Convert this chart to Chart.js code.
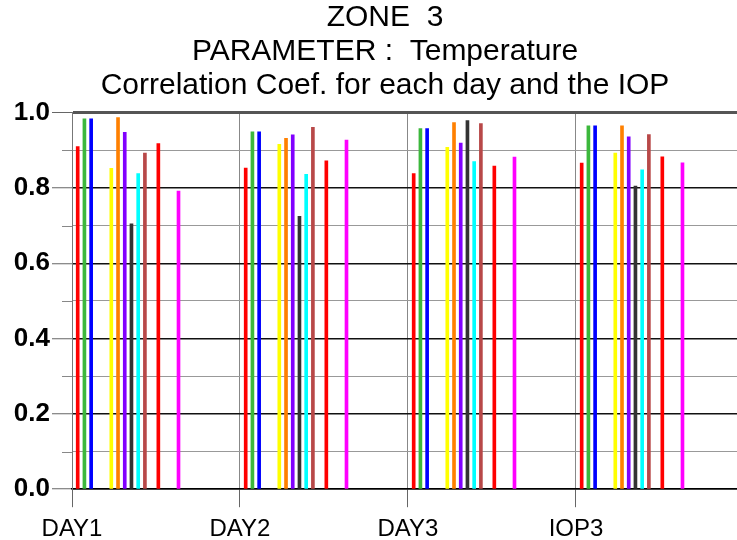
<!DOCTYPE html>
<html>
<head>
<meta charset="utf-8">
<script src="https://cdn.jsdelivr.net/npm/chart.js@4.4.0/dist/chart.umd.min.js"></script>
<style>
  html, body { margin: 0; padding: 0; background: #fff; overflow: hidden; }
  #wrap { width: 770px; height: 540px; }
</style>
</head>
<body>
<div id="wrap"><canvas id="chart"></canvas></div>
<script>
const categories = ['DAY1', 'DAY2', 'DAY3', 'IOP3'];
const titleLines = ['ZONE  3', 'PARAMETER :  Temperature', 'Correlation Coef. for each day and the IOP'];

// slot of each series inside a group (25 slots per group)
const seriesSlots = [1, 2, 3, 6, 7, 8, 9, 10, 11, 13, 16];
const seriesColors = ['#ff0000', '#3cb83c', '#0000ff', '#ffff00', '#ff8000', '#8000ff',
                      '#333333', '#00ffff', '#b84848', '#ff0000', '#ff00ff'];

// values per series, one per category
const s1  = [0.910, 0.853, 0.838, 0.866];
const s2  = [0.984, 0.949, 0.958, 0.965];
const s3  = [0.984, 0.949, 0.958, 0.965];
const s4  = [0.852, 0.916, 0.908, 0.893];
const s5  = [0.987, 0.932, 0.974, 0.965];
const s6  = [0.948, 0.941, 0.919, 0.936];
const s7  = [0.705, 0.725, 0.979, 0.805];
const s8  = [0.838, 0.836, 0.870, 0.848];
const s9  = [0.893, 0.961, 0.971, 0.942];
const s10 = [0.918, 0.872, 0.858, 0.883];
const s11 = [0.792, 0.927, 0.882, 0.867];
const seriesValues = [s1, s2, s3, s4, s5, s6, s7, s8, s9, s10, s11];

const datasets = seriesValues.map((vals, i) => ({
  label: 'S' + (i + 1),
  data: vals.map((v, g) => ({ x: g + seriesSlots[i] / 25 - 0.006, y: v })),
  backgroundColor: seriesColors[i],
  borderWidth: 0,
  barThickness: 3,
  grouped: false,
}));

// short minor ticks at the odd tenths
const minorTicks = {
  id: 'minorTicks',
  afterDraw(chart) {
    const y = chart.scales.y;
    const ctx = chart.ctx;
    const left = chart.chartArea.left;
    ctx.save();
    ctx.strokeStyle = '#888';
    ctx.lineWidth = 1;
    for (let v = 0.1; v < 1; v += 0.2) {
      const py = Math.round(y.getPixelForValue(v)) + 0.5;
      ctx.beginPath();
      ctx.moveTo(left - 10, py);
      ctx.lineTo(left, py);
      ctx.stroke();
    }
    ctx.restore();
  }
};

const isMajor = (v) => Math.round(v * 10) % 2 === 0;

new Chart(document.getElementById('chart').getContext('2d'), {
  type: 'bar',
  data: { datasets },
  options: {
    responsive: true,
    maintainAspectRatio: false,
    animation: false,
    layout: { padding: { left: 0, right: 0, top: 0, bottom: -12 } },
    plugins: {
      legend: { display: false },
      tooltip: { enabled: false },
      title: {
        display: true,
        text: titleLines,
        color: '#000',
        font: { family: 'Liberation Sans', size: 30, weight: 'normal', lineHeight: 1.13 },
        padding: { top: 1, bottom: 10 },
      },
    },
    scales: {
      x: {
        type: 'linear',
        min: 0,
        max: 4.155,
        offset: false,
        afterBuildTicks: (scale) => { scale.ticks = categories.map((c, i) => ({ value: i })); },
        ticks: {
          callback: (v) => categories[v],
          color: '#000',
          font: { family: 'Liberation Sans', size: 24 },
          padding: 8,
          maxRotation: 0,
          autoSkip: false,
        },
        grid: { offset: false, color: '#888', lineWidth: 1, tickLength: 18, tickColor: '#666' },
        border: { color: '#000', width: 1.5 },
      },
      y: {
        min: 0,
        max: 1,
        afterFit: (scale) => { scale.width = 72; },
        ticks: {
          stepSize: 0.1,
          callback: (v) => (isMajor(v) ? v.toFixed(1) : ''),
          color: '#000',
          font: { family: 'Liberation Sans', size: 26, weight: 'bold' },
          padding: 2,
        },
        grid: {
          color: (c) => (c.tick.value >= 1 ? '#555' : isMajor(c.tick.value) ? '#111' : '#999'),
          lineWidth: (c) => (c.tick.value >= 1 ? 3 : isMajor(c.tick.value) ? 1.5 : 1),
          tickLength: 20,
          tickColor: (c) => (isMajor(c.tick.value) ? '#666' : 'rgba(0,0,0,0)'),
          tickWidth: 1,
        },
        border: { color: '#777', width: 1 },
      },
    },
  },
  plugins: [minorTicks],
});
</script>
</body>
</html>
